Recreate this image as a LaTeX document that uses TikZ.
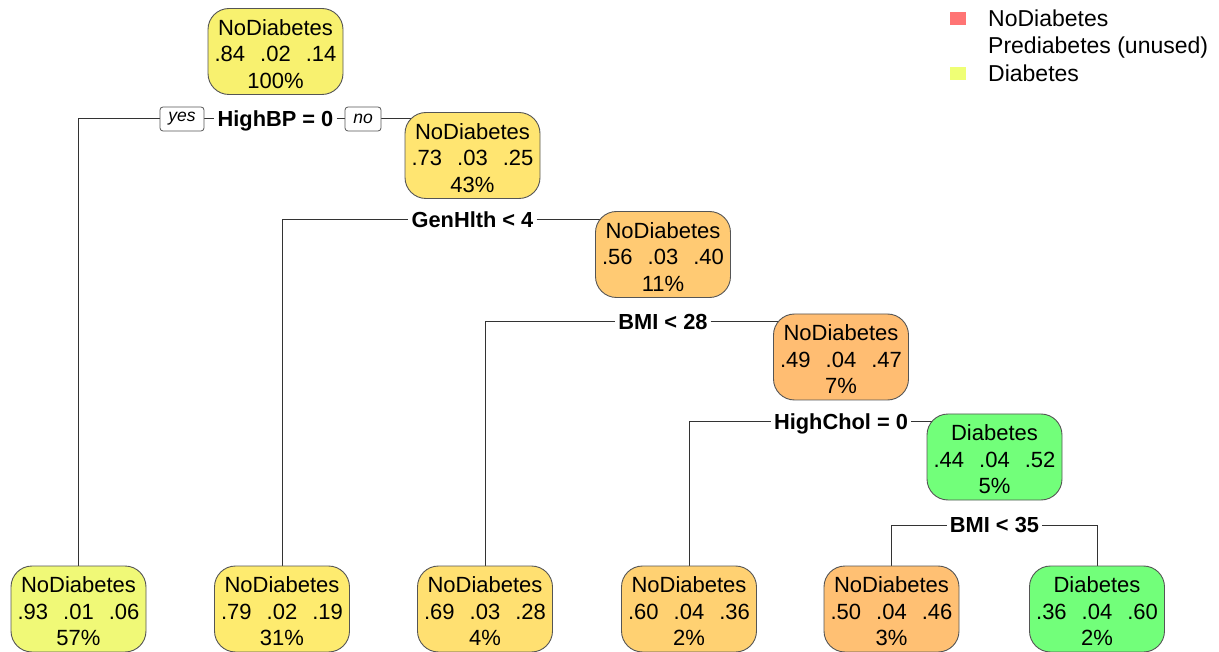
\documentclass[tikz,border=0pt]{standalone}
\usepackage{fontspec}
\setmainfont{Liberation Sans}
\usetikzlibrary{backgrounds}
\definecolor{c93}{HTML}{F0F977}
\definecolor{c84}{HTML}{F8F16F}
\definecolor{c79}{HTML}{FEEB6F}
\definecolor{c73}{HTML}{FFE571}
\definecolor{c69}{HTML}{FFE071}
\definecolor{c60}{HTML}{FFD172}
\definecolor{c56}{HTML}{FFCA73}
\definecolor{c50}{HTML}{FFC073}
\definecolor{c49}{HTML}{FFBD72}
\definecolor{cgreen}{HTML}{72FF7A}
\definecolor{lgred}{HTML}{FF7474}
\definecolor{lgyel}{HTML}{EFFF75}
\definecolor{edgegray}{HTML}{555555}
\definecolor{linegray}{HTML}{333333}
\newcommand{\probs}[3]{#1\hspace{15pt}#2\hspace{15pt}#3}
\newcommand{\topstrut}{\rule{0pt}{21pt}}
\tikzset{
  tnode/.style={draw=edgegray, line width=0.9pt, rounded corners=21pt, minimum width=135pt, minimum height=86pt, align=center, inner sep=0pt, font=\fontsize{22}{26.5}\selectfont},
  splitlab/.style={inner xsep=3pt, inner ysep=2pt, text height=15.5pt, text depth=0pt, font=\fontsize{21.8}{26}\selectfont\bfseries},
  ynbox/.style={draw=edgegray, line width=0.8pt, fill=white, rounded corners=3pt, minimum height=24pt, inner sep=0pt, font=\fontsize{17.5}{20}\selectfont\itshape},
  conn/.style={draw=linegray, line width=1pt},
  legtext/.style={anchor=base west, inner sep=0pt, font=\fontsize{23}{27}\selectfont}
}
\begin{document}
\begin{tikzpicture}[x=1pt,y=-1pt]
\useasboundingbox (0,0) rectangle (1219,652);
% internal nodes
\node[tnode, fill=c84] (root) at (275.5,51.5) {\topstrut NoDiabetes\\\probs{.84}{.02}{.14}\\100\%};
\node[tnode, fill=c73] (n2) at (472.5,155.5) {\topstrut NoDiabetes\\\probs{.73}{.03}{.25}\\43\%};
\node[tnode, fill=c56] (n3) at (663,254.5) {\topstrut NoDiabetes\\\probs{.56}{.03}{.40}\\11\%};
\node[tnode, fill=c49] (n4) at (841,357) {\topstrut NoDiabetes\\\probs{.49}{.04}{.47}\\7\%};
\node[tnode, fill=cgreen] (n5) at (994.5,457) {\topstrut Diabetes\\\probs{.44}{.04}{.52}\\5\%};
% leaves
\node[tnode, fill=c93] (l1) at (78.5,609) {\topstrut NoDiabetes\\\probs{.93}{.01}{.06}\\57\%};
\node[tnode, fill=c79] (l2) at (282,609) {\topstrut NoDiabetes\\\probs{.79}{.02}{.19}\\31\%};
\node[tnode, fill=c69] (l3) at (485,609) {\topstrut NoDiabetes\\\probs{.69}{.03}{.28}\\4\%};
\node[tnode, fill=c60] (l4) at (689,609) {\topstrut NoDiabetes\\\probs{.60}{.04}{.36}\\2\%};
\node[tnode, fill=c50] (l5) at (891.5,609) {\topstrut NoDiabetes\\\probs{.50}{.04}{.46}\\3\%};
\node[tnode, fill=cgreen] (l6) at (1097,609) {\topstrut Diabetes\\\probs{.36}{.04}{.60}\\2\%};
% split labels
\node[splitlab] (s1) at (275.5,119) {HighBP = 0};
\node[splitlab] (s2) at (472.5,220) {GenHlth < 4};
\node[splitlab] (s3) at (663,322) {BMI < 28};
\node[splitlab] (s4) at (841,422) {HighChol = 0};
\node[splitlab] (s5) at (994.5,525) {BMI < 35};
\node[ynbox, minimum width=44pt] (yes) at (182,119) {yes};
\node[ynbox, minimum width=36pt] (no) at (363,119) {no};
% connectors
\begin{scope}[on background layer]
\draw[conn] (l1.north) |- (yes.west);
\draw[conn] (yes.east) -- (s1.west);
\draw[conn] (s1.east) -- (no.west);
\draw[conn] (no.east) -| (n2.center);
\draw[conn] (l2.north) |- (s2.west);
\draw[conn] (s2.east) -| (n3.center);
\draw[conn] (l3.north) |- (s3.west);
\draw[conn] (s3.east) -| (n4.center);
\draw[conn] (l4.north) |- (s4.west);
\draw[conn] (s4.east) -| (n5.center);
\draw[conn] (l5.north) |- (s5.west);
\draw[conn] (s5.east) -| (l6.north);
\end{scope}
% legend
\fill[lgred] (950,12) rectangle (966,25);
\node[legtext] (lg1) at (988,27) {NoDiabetes};
\node[legtext] (lg2) at (988,54) {Prediabetes (unused)};
\fill[lgyel] (950,67) rectangle (966,80);
\node[legtext] (lg3) at (988,82) {Diabetes};
\end{tikzpicture}
\end{document}
